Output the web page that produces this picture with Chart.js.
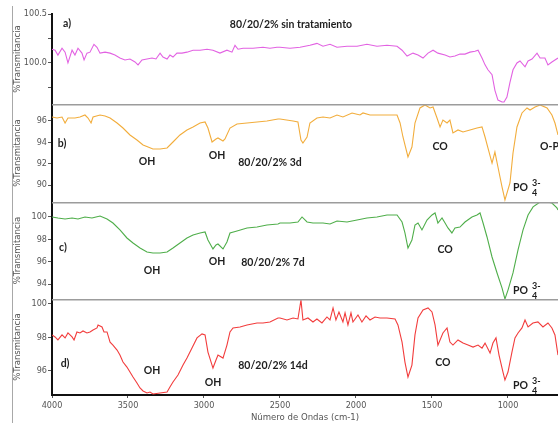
<!DOCTYPE html>
<html>
<head>
<meta charset="utf-8">
<script src="https://cdn.jsdelivr.net/npm/chart.js@4.4.1/dist/chart.umd.min.js"></script>
<style>
    html, body { margin: 0; padding: 0; background: #fff; overflow: hidden; }
    #wrap { position: relative; width: 558px; height: 423px; }
    #wrap canvas { position: absolute; left: 0; }
    #frame { position: absolute; left: 12px; top: 6px; bottom: 0; border-left: 1px solid #a8a8a8; }
</style>
</head>
<body>
<div id="wrap">
    <div id="frame"></div>
    <canvas id="panelA"></canvas>
    <canvas id="panelB"></canvas>
    <canvas id="panelC"></canvas>
    <canvas id="panelD"></canvas>
</div>
<script>
// Wavenumbers (cm-1) and % transmittance
const waveA = [4000,3980,3961,3934,3914,3895,3868,3849,3829,3803,3789,3770,3750,3724,3704,3684,3651,3618,3586,3553,3520,3487,3454,3434,3408,3375,3342,3316,3289,3270,3243,3224,3204,3178,3145,3112,3072,3026,2980,2941,2895,2849,2816,2796,2776,2743,2678,2612,2566,2520,2500,2434,2368,2303,2257,2217,2171,2125,2059,1993,1928,1862,1796,1730,1697,1664,1625,1592,1559,1526,1493,1461,1414,1382,1349,1316,1283,1250,1217,1197,1171,1151,1132,1105,1086,1066,1039,1026,1007,987,967,941,921,888,868,842,809,789,757,737,711,691,671];
const transA = [100.14,100.13,100.08,100.15,100.11,100.00,100.13,100.08,100.15,100.10,100.03,100.10,100.11,100.19,100.16,100.10,100.11,100.10,100.08,100.05,100.03,100.04,100.01,99.98,100.03,100.04,100.05,100.04,100.10,100.06,100.04,100.08,100.06,100.10,100.10,100.11,100.13,100.13,100.14,100.13,100.10,100.13,100.11,100.18,100.14,100.15,100.15,100.16,100.15,100.16,100.16,100.15,100.16,100.18,100.20,100.17,100.19,100.16,100.17,100.17,100.19,100.17,100.18,100.17,100.13,100.07,100.10,100.08,100.05,100.10,100.13,100.10,100.08,100.06,100.07,100.09,100.09,100.11,100.12,100.13,100.05,99.98,99.93,99.88,99.72,99.62,99.60,99.60,99.65,99.80,99.93,100.00,100.02,99.96,100.02,100.04,100.10,100.05,100.05,99.98,100.01,100.03,100.05];

const waveB = [4000,3967,3934,3914,3895,3849,3816,3783,3763,3743,3730,3684,3651,3618,3572,3533,3487,3441,3401,3368,3336,3289,3243,3204,3158,3112,3072,3026,2993,2974,2947,2921,2908,2875,2862,2829,2783,2717,2651,2586,2513,2500,2414,2382,2362,2349,2322,2303,2257,2217,2171,2125,2086,2026,1974,1954,1908,1842,1776,1730,1710,1691,1658,1632,1612,1579,1546,1513,1493,1467,1447,1428,1401,1382,1362,1329,1296,1250,1204,1171,1151,1132,1105,1086,1066,1039,1020,987,967,941,908,875,855,822,789,743,711,691,671];
const transB = [96.37,96.28,96.37,95.81,96.28,96.28,96.37,96.56,96.28,95.81,96.37,96.56,96.47,96.28,95.81,95.34,94.69,94.22,93.75,93.56,93.38,93.38,93.47,94.03,94.69,95.16,95.44,95.81,95.91,95.34,94.03,94.31,94.41,94.13,94.31,95.34,95.72,95.81,95.91,96.0,96.19,96.19,96.0,95.91,94.22,93.94,94.5,95.81,96.28,96.37,96.28,96.56,96.37,96.75,96.56,96.75,96.56,96.56,96.56,96.56,95.81,94.5,92.63,93.56,95.81,97.22,97.5,97.22,97.31,96.28,95.44,96.09,95.81,96.09,94.88,95.16,94.97,95.16,95.34,95.44,94.5,93.47,92.06,93.09,91.69,89.81,88.6,90.19,93.0,95.44,96.75,97.22,97.03,97.31,97.5,97.22,96.56,95.81,94.69];

const waveC = [4000,3961,3914,3868,3829,3783,3737,3684,3638,3599,3553,3507,3467,3421,3375,3336,3289,3243,3204,3158,3112,3072,3026,2993,2974,2941,2921,2908,2875,2849,2829,2783,2717,2651,2586,2513,2500,2434,2382,2355,2322,2283,2217,2171,2125,2059,1993,1928,1862,1796,1730,1697,1678,1658,1632,1612,1592,1566,1533,1500,1480,1461,1434,1414,1395,1369,1349,1316,1283,1237,1204,1184,1164,1138,1105,1072,1039,1020,1000,967,934,901,868,835,789,743,711,678,671];
const transC = [100.0,99.91,99.82,99.91,99.82,100.0,99.91,100.09,99.82,99.46,98.84,98.12,97.67,97.22,96.87,96.78,96.78,96.87,97.22,97.67,98.12,98.39,98.57,98.66,97.94,97.14,97.49,97.58,97.14,97.76,98.57,98.75,99.02,99.10,99.28,99.37,99.46,99.46,99.55,100.0,99.55,99.46,99.46,99.37,99.64,99.55,99.73,99.91,100.0,100.18,100.18,99.55,98.57,97.22,97.94,99.28,99.46,98.84,99.73,100.18,100.36,99.46,99.91,99.46,99.02,98.57,99.02,99.10,99.55,100.0,100.18,100.36,99.46,98.21,96.42,94.99,93.64,92.66,93.46,94.99,97.05,98.84,100.18,100.90,101.34,101.34,101.25,100.81,100.63];

const waveD = [4000,3980,3961,3934,3914,3895,3868,3855,3836,3816,3796,3770,3750,3730,3704,3697,3671,3658,3638,3618,3599,3572,3553,3533,3507,3487,3467,3441,3421,3401,3375,3355,3336,3289,3243,3224,3204,3171,3138,3112,3079,3046,3013,2993,2974,2941,2921,2908,2875,2849,2829,2809,2763,2717,2651,2612,2566,2513,2500,2454,2414,2382,2362,2349,2316,2283,2257,2224,2191,2171,2151,2132,2112,2086,2072,2053,2033,2020,1987,1961,1934,1908,1875,1842,1796,1743,1724,1697,1678,1658,1632,1612,1592,1559,1526,1500,1480,1461,1428,1401,1382,1362,1329,1296,1263,1230,1197,1171,1151,1118,1099,1079,1059,1033,1020,1000,974,954,934,908,888,868,836,803,770,737,711,691,671];
const transD = [98.14,98.02,97.84,98.14,97.96,98.26,98.02,97.84,98.32,98.26,98.38,98.26,98.32,98.44,98.56,98.74,98.62,98.32,98.32,97.71,97.53,97.23,96.93,96.51,96.21,95.91,95.61,95.25,94.95,94.77,94.65,94.71,94.59,94.65,94.71,95.01,95.31,95.73,96.33,96.75,97.35,97.96,98.20,98.14,97.11,96.15,96.63,96.93,96.75,97.53,98.32,98.56,98.62,98.74,98.86,98.86,98.92,99.16,99.16,99.04,99.16,99.10,100.24,99.04,99.16,98.92,99.10,98.86,99.22,99.04,99.76,99.04,99.52,98.92,99.46,98.74,99.46,98.92,99.34,98.92,99.28,99.04,99.22,99.16,99.16,99.10,98.74,97.71,96.51,95.61,96.33,98.14,99.16,99.64,99.76,99.52,98.74,97.53,98.26,98.56,97.71,97.53,97.84,97.65,97.53,97.41,97.53,97.35,97.65,97.05,97.65,97.96,96.93,95.91,95.43,95.91,97.11,97.96,98.26,98.56,99.04,98.62,98.86,98.92,98.62,98.86,98.56,98.14,96.93];

// Axis ticks
const xTicks = [4000, 3500, 3000, 2500, 2000, 1500, 1000];
const ticksA = [99.75, 100.0, 100.25, 100.5];
const ticksB = [90, 92, 94, 96];
const ticksC = [94, 96, 98, 100];
const ticksD = [96, 98, 100];

// Band labels, anchored in data units (wavenumber, transmittance)
const labelsA = [
    { text: 'a)', w: 3901, v: 100.40 },
    { text: '80/20/2% sin tratamiento', w: 2428, v: 100.39 }
];
const labelsB = [
    { text: 'b)', w: 3934, v: 93.84 },
    { text: 'OH', w: 3375, v: 92.16 },
    { text: 'OH', w: 2914, v: 92.72 },
    { text: '80/20/2% 3d', w: 2566, v: 92.06 },
    { text: 'CO', w: 1447, v: 93.56 },
    { text: 'O-P-O', w: 789, v: 93.56, align: 'left' },
    { text: 'PO', w: 967, v: 89.72, align: 'left', sub: '4', sup: '3-' }
];
const labelsC = [
    { text: 'c)', w: 3928, v: 97.22 },
    { text: 'OH', w: 3342, v: 95.17 },
    { text: 'OH', w: 2914, v: 95.97 },
    { text: '80/20/2% 7d', w: 2546, v: 95.88 },
    { text: 'CO', w: 1414, v: 97.05 },
    { text: 'PO', w: 967, v: 93.37, align: 'left', sub: '4', sup: '3-' }
];
const labelsD = [
    { text: 'd)', w: 3914, v: 96.39 },
    { text: 'OH', w: 3342, v: 95.97 },
    { text: 'OH', w: 2941, v: 95.25 },
    { text: '80/20/2% 14d', w: 2546, v: 96.27 },
    { text: 'CO', w: 1428, v: 96.45 },
    { text: 'PO', w: 967, v: 95.07, align: 'left', sub: '4', sup: '3-' }
];

const AXIS_FONT = "'Liberation Sans Narrow', 'Arial Narrow', 'DejaVu Sans Condensed', 'Liberation Sans', sans-serif";
const LABEL_FONT = "Lato, 'Open Sans', sans-serif";
const AXIS_GRAY = '#555555';

/**
 * Draws the bold band labels (OH, CO, PO4 3-, ...) on each panel
 */
const bandLabels = {
    id: 'bandLabels',
    afterDatasetsDraw(chart, args, opts) {
        const { ctx, scales: { x, y } } = chart;
        ctx.save();
        ctx.fillStyle = '#1e1e1e';
        ctx.textBaseline = 'middle';
        (opts.items || []).forEach(item => {
            const px = x.getPixelForValue(item.w);
            const py = y.getPixelForValue(item.v);
            ctx.font = `bold 10.5px ${LABEL_FONT}`;
            ctx.textAlign = item.align || 'center';
            ctx.fillText(item.text, px, py);
            if (item.sub || item.sup) {
                const end = px + ctx.measureText(item.text).width + 4;
                ctx.font = `bold 9px ${LABEL_FONT}`;
                ctx.textAlign = 'left';
                if (item.sup) ctx.fillText(item.sup, end, py - 5);
                if (item.sub) ctx.fillText(item.sub, end, py + 5);
            }
        });
        ctx.restore();
    }
};

/**
 * Gray rule separating a panel from the one above it
 */
const panelRule = {
    id: 'panelRule',
    afterDraw(chart, args, opts) {
        if (!opts.show) return;
        const { ctx, chartArea } = chart;
        ctx.save();
        ctx.strokeStyle = '#9c9c9c';
        ctx.lineWidth = 1.5;
        ctx.beginPath();
        ctx.moveTo(chartArea.left, chartArea.top + 0.75);
        ctx.lineTo(chartArea.right, chartArea.top + 0.75);
        ctx.stroke();
        ctx.restore();
    }
};

const PANELS = [
    { id: 'panelA', top: 0, height: 104, padTop: 14, wave: waveA, trans: transA, color: '#e262e2',
      min: 99.58, max: 100.5, ticks: ticksA, labels: labelsA, rule: false,
      fmt: v => (v * 2) % 1 === 0 ? v.toFixed(1) : '' },
    { id: 'panelB', top: 104, height: 98, padTop: 0, wave: waveB, trans: transB, color: '#f2ad3c',
      min: 88.41, max: 97.59, ticks: ticksB, labels: labelsB, rule: true, fmt: v => String(v) },
    { id: 'panelC', top: 202, height: 97, padTop: 0, wave: waveC, trans: transC, color: '#4fae4a',
      min: 92.66, max: 101.34, ticks: ticksC, labels: labelsC, rule: true, fmt: v => String(v) },
    { id: 'panelD', top: 299, height: 124, padTop: 0, wave: waveD, trans: transD, color: '#f23c3c',
      min: 94.53, max: 100.30, ticks: ticksD, labels: labelsD, rule: true, bottom: true, fmt: v => String(v) }
];

/**
 * Build the Chart.js config for one stacked panel
 * @param {Object} p - panel description
 * @returns {Object} Chart.js configuration
 */
function getPanelConfig(p) {
    const points = p.wave.map((w, i) => ({ x: w, y: p.trans[i] }));
    const tickFont = { family: AXIS_FONT, size: 9 };
    const titleFont = { family: AXIS_FONT, size: 9.5 };

    return {
        type: 'line',
        data: {
            datasets: [{
                data: points,
                borderColor: p.color,
                borderWidth: 1.1,
                pointRadius: 0,
                fill: false,
                tension: 0
            }]
        },
        options: {
            responsive: false,
            animation: false,
            layout: { padding: { top: p.padTop, bottom: 0, left: 0, right: 0 } },
            plugins: {
                legend: { display: false },
                tooltip: { enabled: false },
                bandLabels: { items: p.labels },
                panelRule: { show: p.rule }
            },
            scales: {
                x: {
                    type: 'linear',
                    reverse: true,
                    min: 671,
                    max: 4000,
                    display: !!p.bottom,
                    afterBuildTicks: s => { s.ticks = xTicks.map(v => ({ value: v })); },
                    afterFit: s => {
                        s.height = p.bottom ? 28 : 0;
                        s.paddingLeft = 0;
                        s.paddingRight = 0;
                    },
                    border: { color: '#111', width: 2 },
                    grid: { drawOnChartArea: false, tickLength: 3, color: AXIS_GRAY },
                    ticks: {
                        color: AXIS_GRAY, font: tickFont, padding: 2, maxRotation: 0, autoSkip: false,
                        callback: v => String(v)
                    },
                    title: {
                        display: true,
                        text: 'Número de Ondas (cm-1)',
                        color: AXIS_GRAY,
                        font: titleFont,
                        padding: { top: 0, bottom: 0 }
                    }
                },
                y: {
                    min: p.min,
                    max: p.max,
                    afterBuildTicks: s => { s.ticks = p.ticks.map(v => ({ value: v })); },
                    afterFit: s => { s.width = 52; s.paddingTop = 0; s.paddingBottom = 0; },
                    border: { color: '#111', width: 2 },
                    grid: { drawOnChartArea: false, tickLength: 4, color: AXIS_GRAY },
                    ticks: { color: AXIS_GRAY, font: tickFont, padding: 1, autoSkip: false, callback: p.fmt },
                    title: {
                        display: true,
                        text: '%Transmitancia',
                        color: AXIS_GRAY,
                        font: titleFont,
                        padding: { top: 12, bottom: 0 }
                    }
                }
            }
        },
        plugins: [bandLabels, panelRule]
    };
}

PANELS.forEach(p => {
    const canvas = document.getElementById(p.id);
    canvas.width = 558;
    canvas.height = p.height;
    canvas.style.top = p.top + 'px';
    new Chart(canvas.getContext('2d'), getPanelConfig(p));
});
</script>
</body>
</html>
